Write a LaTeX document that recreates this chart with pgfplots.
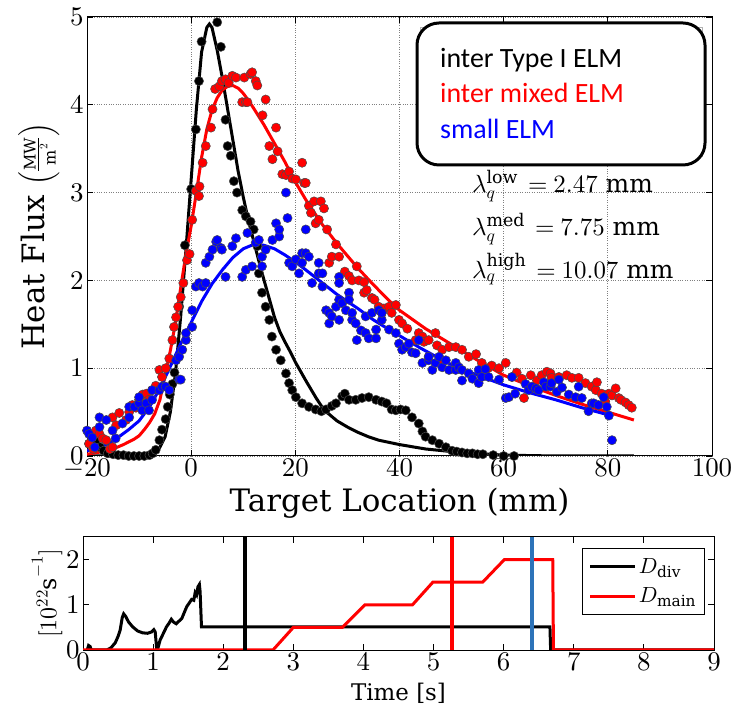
\documentclass[border=0pt]{standalone}
\usepackage{pgfplots}
\pgfplotsset{compat=1.18}
\usepackage{fontspec}
\setmainfont{DejaVu Serif}
\newfontfamily\calibri{Carlito}
\DeclareFontShape{OT1}{cmr}{m}{n}{<->cmr10}{}
\DeclareFontShape{OML}{cmm}{m}{it}{<->cmmi10}{}
\DeclareFontShape{OMS}{cmsy}{m}{n}{<->cmsy10}{}
\DeclareFontShape{OMX}{cmex}{m}{n}{<->cmex10}{}
\definecolor{mblue}{RGB}{45,115,185}
\pgfplotsset{
  dot/.style={only marks, mark=*, mark size=4.6bp, mark options={draw=black!70, line width=0.5bp, fill=#1}},
  fit/.style={no marks, line width=3bp, color=#1},
}
\begin{document}
\begin{tikzpicture}
\path[use as bounding box] (0,0) rectangle (734bp,708bp);
\begin{axis}[
  at={(87bp,252bp)}, anchor=south west, scale only axis, width=625bp, height=439bp,
  xmin=-20, xmax=100, ymin=0, ymax=5,
  xtick={-20,0,20,40,60,80,100},
  ytick={0,1,2,3,4,5},
  tick align=inside, major tick length=6bp,
  grid=major, grid style={dotted, gray, line width=0.9bp},
  axis line style={black, line width=1bp},
  every tick/.style={black, line width=0.8bp},
  tick label style={font=\fontsize{27}{31}\selectfont},
  xlabel={Target Location (mm)},
  ylabel={Heat Flux {\fontsize{23}{27}\selectfont$\left(\frac{\mathrm{MW}}{\mathrm{m}^2}\right)$}},
  label style={font=\fontsize{31}{35}\selectfont},
  xlabel style={at={(axis description cs:0.5,-0.107)}, anchor=center},
  ylabel style={at={(axis description cs:-0.077,0.5)}, anchor=center, inner sep=0pt},
]
% black data
\addplot[dot=black] coordinates {
(-20.3,1.8) (-20.3,0.45) (-19.6,0.14) (-19.0,0.2) (-18.3,0.17) (-17.5,0.1) (-16.8,0.06) (-16,0.03)
(-15,0.02) (-14,0.01) (-13,0.01) (-12,0.0) (-11,0.0) (-10,0.0) (-9,0.0) (-8,0.01) (-7.4,0.03)
(-6.8,0.07) (-6.1,0.18) (-5.6,0.3) (-4.9,0.42) (-4.5,0.56) (-4.1,0.7) (-3.6,0.82) (-3.2,0.95)
(-2.3,1.7) (-1.2,2.4) (0.0,3.04) (0.9,3.72) (1.5,4.27) (2.0,4.72) (5.0,4.94) (5.7,4.66)
(6.6,3.83) (7.0,3.53) (7.6,3.42) (8.2,3.13) (8.8,3.0) (9.8,2.8) (10.5,2.73) (11.4,2.67)
(12.0,2.58) (12.7,2.39) (13.0,2.08) (13.6,1.86) (14.3,1.7) (15.0,1.55) (15.5,1.36) (16.3,1.21)
(17.2,1.09) (18.2,0.94) (18.8,0.83) (19.4,0.75) (20.1,0.67) (21.3,0.6) (22.6,0.56) (23.9,0.53)
(25.0,0.51) (25.9,0.53) (27.0,0.57) (27.8,0.6) (29.0,0.68) (29.5,0.71) (30.3,0.64) (31.6,0.64)
(32.8,0.66) (34.1,0.67) (35.5,0.64) (36.6,0.62) (37.5,0.6) (38.5,0.53) (39.3,0.52) (40.2,0.53)
(41.2,0.52) (42.4,0.44) (43.7,0.37) (44.4,0.28) (45.0,0.22) (46.3,0.18) (47.6,0.14) (48.9,0.1)
(50.1,0.06) (51.0,0.05) (52.0,0.04) (53.0,0.03) (54.0,0.03) (55.0,0.02) (56.0,0.02) (58.0,0.01)
(60.0,0.0) (62.0,0.0)
};
\addplot[fit=black] coordinates {
(-20,0) (-10,0) (-8,0.01) (-7,0.04) (-6,0.1) (-5,0.22) (-4,0.5) (-3,0.95) (-2,1.6) (-1,2.35)
(0,3.15) (1,3.95) (2,4.6) (3,4.88) (3.5,4.92) (4,4.88) (5,4.62) (6,4.3) (7,3.95) (8,3.6)
(9,3.25) (10,2.95) (11,2.68) (12,2.45) (13,2.22) (14,2.0) (15,1.79) (16,1.58) (17,1.42)
(18,1.3) (19,1.19) (20,1.07) (22,0.86) (24,0.66) (25,0.57) (26,0.5) (28,0.4) (30,0.33)
(32,0.27) (34,0.22) (36,0.18) (40,0.13) (45,0.08) (50,0.05) (55,0.03) (60,0.01) (70,0) (85,0)
};
% red data
\addplot[dot=red] coordinates {
(-19.6,0.14) (-18.8,0.08) (-18.3,0.29) (-17.6,0.25) (-17.0,0.2) (-16.3,0.18) (-15.6,0.08)
(-15.1,0.1) (-15.1,0.44) (-14.4,0.35) (-13.8,0.49) (-12.5,0.41) (-11.9,0.5) (-11.3,0.58)
(-10.6,0.55) (-10.0,0.64) (-9.3,0.7) (-8.6,0.71) (-8.1,0.64) (-7.5,0.75) (-6.8,0.8) (-6.1,0.98)
(-5.6,0.9) (-4.9,1.0) (-4.2,1.11) (-3.6,1.32) (-3.3,1.47) (-2.9,1.58) (-2.5,1.7) (-2.0,1.81)
(-1.5,1.97) (-0.8,2.23) (-0.3,2.3) (0.2,2.69) (0.9,3.02) (1.5,2.96) (1.6,3.07) (2.2,3.34)
(2.8,3.53) (3.8,3.74) (4.1,3.95) (4.6,4.18) (5.4,4.21) (5.9,4.27) (6.6,4.29) (7.2,4.25)
(7.9,4.33) (8.6,4.31) (9.8,4.03) (10.5,4.03) (10.2,4.31) (10.8,4.03) (11.4,4.35) (11.7,4.37)
(12.4,4.27) (12.7,4.22) (13.7,3.88) (14.3,4.06) (15.0,3.53) (15.6,3.38) (16.3,3.74) (16.6,3.47)
(17.5,3.21) (18.2,3.2) (18.8,3.24) (19.4,3.16) (20.1,3.15) (21.3,3.34) (21.7,3.11) (22.0,3.11)
(22.6,2.85) (23.0,2.77) (23.6,2.9) (23.9,2.65) (24.5,2.69) (24.9,2.9) (25.5,2.82) (26.1,2.58)
(26.5,2.2) (27.0,2.27) (27.8,2.41) (28.4,2.27) (29.5,2.1) (30.3,2.05) (30.9,2.0) (31.8,2.16)
(32.2,2.0) (33.2,1.98) (33.2,1.86) (33.7,1.89) (34.7,1.8) (35.2,1.78) (36.0,1.7) (36.6,1.63)
(37.0,1.68) (38.0,1.7) (38.5,1.63) (39.3,1.72) (39.9,1.55) (40.5,1.51) (41.5,1.45) (43.1,1.32)
(43.7,1.4) (44.4,1.36) (44.7,1.3) (45.6,1.13) (45.6,1.32) (46.9,1.4) (47.2,1.26) (48.2,1.21)
(48.2,1.09) (49.5,1.24) (50.8,1.24) (52.0,1.21) (53.3,1.13) (54.7,1.16) (55.8,1.06) (57.0,1.0)
(57.7,1.03) (59.1,1.0) (60.4,1.06) (61.6,0.9) (62.5,0.95) (63.5,0.88) (63.9,0.66) (65.2,0.92)
(66.4,0.86) (67.3,0.92) (68.3,0.96) (69.0,0.94) (69.2,0.89) (70.6,0.9) (72.1,0.92) (73.1,0.89)
(74.4,0.89) (75.7,0.83) (76.9,0.79) (77.7,0.75) (77.9,0.84) (78.8,0.71) (79.5,0.62) (80.2,0.71)
(80.8,0.69) (81.5,0.77) (82.1,0.66) (82.5,0.64) (83.4,0.61) (84.0,0.58) (84.6,0.55)
};
\addplot[fit=red] coordinates {
(-20,0.02) (-17,0.05) (-15,0.08) (-13,0.13) (-11,0.19) (-10,0.23) (-9,0.3) (-8,0.38) (-7,0.48)
(-6,0.64) (-5,0.92) (-4,1.2) (-3,1.52) (-2,1.92) (-1,2.3) (0,2.62) (1,3.0) (2,3.4) (3,3.72)
(4,3.94) (5,4.08) (6,4.17) (7,4.21) (8,4.22) (9,4.19) (10,4.13) (11,4.05) (12,3.96) (14,3.77)
(16,3.56) (18,3.35) (20,3.12) (22,2.92) (25,2.65) (28,2.42) (30,2.28) (32,2.14) (35,1.95)
(38,1.77) (40,1.66) (45,1.45) (50,1.27) (55,1.09) (60,0.92) (65,0.8) (70,0.69) (75,0.59)
(80,0.5) (85,0.41)
};
% blue data
\addplot[dot=blue] coordinates {
(-20,0.29) (-19.6,0.25) (-19.0,0.21) (-18.5,0.1) (-17.6,0.44) (-17.6,0.33) (-16.3,0.41)
(-15.1,0.29) (-14.5,0.2) (-13.2,0.37) (-11.9,0.44) (-11.9,0.56) (-10.9,0.56) (-10.0,0.6)
(-10.0,0.67) (-9.4,0.52) (-8.6,0.6) (-8.1,0.52) (-7.5,0.64) (-7.5,0.75) (-6.1,0.75) (-5.6,0.79)
(-4.9,0.79) (-4.2,0.75) (-2.9,1.09) (-2.3,0.87) (-2.0,0.87) (-2.3,1.13) (-1.7,1.21) (-1.0,1.32)
(-1.0,1.4) (0.2,1.47) (0.2,1.66) (0.9,1.93) (1.5,1.97) (2.2,1.93) (2.8,1.97) (2.8,2.2) (3.5,2.27)
(4.1,2.35) (4.8,2.44) (5.0,2.46) (5.7,2.37) (5.9,2.35) (6.6,2.04) (7.9,2.39) (8.6,2.48) (9.8,2.04)
(10.5,2.12) (10.8,2.54) (11.7,2.16) (12.4,2.43) (13.0,2.46) (13.6,2.16) (13.6,2.27) (14.3,2.35)
(15.6,2.46) (16.3,2.65) (16.9,2.5) (16.9,2.58) (18.2,3.0) (18.5,2.71) (18.8,2.2) (19.4,2.16)
(20.1,2.24) (20.7,2.08) (21.3,2.2) (21.3,2.31) (22.0,2.58) (22.0,2.31) (22.6,2.27) (23.2,1.97)
(24.5,2.08) (24.5,2.2) (25.2,2.08) (25.2,1.93) (25.9,1.66) (26.5,1.51) (26.5,1.63) (27.0,1.59)
(27.8,1.7) (28.4,1.78) (28.4,2.04) (28.4,1.97) (28.4,1.55) (29.0,1.74) (29.7,1.66) (30.3,1.86)
(30.3,1.78) (30.9,1.55) (30.9,1.63) (31.6,1.51) (31.8,1.32) (32.6,1.43) (33.5,1.4) (33.5,1.59)
(34.1,1.34) (34.7,1.63) (35.5,1.34) (35.5,1.44) (36.0,1.66) (36.6,1.55) (36.6,1.63) (38.0,1.44)
(39.3,1.4) (39.9,1.28) (40.5,1.21) (41.2,1.24) (41.8,1.28) (42.4,1.18) (43.1,1.17) (43.7,1.32)
(44.4,1.06) (45.6,1.09) (45.6,1.13) (46.3,0.98) (46.9,1.06) (47.6,1.13) (48.2,1.01) (48.9,1.09)
(49.5,0.98) (50.8,0.98) (50.8,1.06) (51.4,1.01) (52.0,0.86) (52.0,0.98) (53.3,0.94) (54.0,0.88)
(55.2,0.83) (55.2,0.98) (55.8,0.9) (56.5,0.99) (57.1,0.9) (59.1,0.87) (60.4,0.66) (61.0,0.67)
(61.6,0.9) (62.2,0.71) (64.2,0.82) (64.8,0.75) (65.4,0.79) (66.2,0.77) (66.7,0.75) (67.7,0.84)
(68.1,0.79) (69.0,0.79) (69.2,0.83) (70.2,0.73) (70.6,0.87) (71.2,0.78) (72.5,0.7) (73.8,0.67)
(74.4,0.79) (75.0,0.66) (76.3,0.51) (76.9,0.6) (77.3,0.6) (78.2,0.58) (79.2,0.67) (79.8,0.56)
(80.2,0.46) (80.8,0.18)
};
\addplot[fit=blue] coordinates {
(-20,0.06) (-17,0.11) (-15,0.17) (-12,0.3) (-10,0.4) (-8,0.56) (-6,0.77) (-4,1.02) (-2,1.28)
(0,1.52) (2,1.76) (4,1.96) (6,2.12) (8,2.26) (10,2.36) (12,2.41) (14,2.4) (16,2.36) (18,2.29)
(20,2.21) (22,2.12) (25,1.98) (28,1.84) (30,1.76) (32,1.68) (35,1.55) (38,1.44) (40,1.37)
(44,1.23) (48,1.1) (50,1.04) (55,0.92) (60,0.81) (65,0.72) (70,0.64) (75,0.55) (80,0.47)
};
\node[anchor=base west, inner sep=0pt, font=\fontsize{25}{29}\selectfont] at (axis cs:53.9,3.0) {$\lambda_q^{\mathrm{low}}\hspace{10bp}{=}\hspace{6bp}2.47\ \mathrm{mm}$};
\node[anchor=base west, inner sep=0pt, font=\fontsize{25}{29}\selectfont] at (axis cs:53.9,2.51) {$\lambda_q^{\mathrm{med}}\hspace{10bp}{=}\hspace{6bp}7.75\ \mathrm{mm}$};
\node[anchor=base west, inner sep=0pt, font=\fontsize{25}{29}\selectfont] at (axis cs:53.9,2.02) {$\lambda_q^{\mathrm{high}}\hspace{10bp}{=}\hspace{6bp}10.07\ \mathrm{mm}$};
\end{axis}

\begin{axis}[
  at={(83bp,58bp)}, anchor=south west, scale only axis, width=631bp, height=113bp,
  xmin=0, xmax=9, ymin=0, ymax=2.5,
  xtick={0,1,2,3,4,5,6,7,8,9}, ytick={0,1,2},
  tick align=inside, major tick length=6bp,
  axis line style={black, line width=1bp},
  every tick/.style={black, line width=0.8bp},
  tick label style={font=\fontsize{27}{31}\selectfont},
  xlabel={Time [s]},
  ylabel={$[10^{22}\mathrm{s}^{-1}]$},
  label style={font=\fontsize{23}{27}\selectfont},
  xlabel style={at={(axis description cs:0.5,-0.38)}, anchor=center},
  ylabel style={at={(axis description cs:-0.057,0.5)}, anchor=center, font=\fontsize{24}{28}\selectfont},
  legend style={at={(0.985,0.903)}, anchor=north east, draw=black, line width=1bp,
    font=\fontsize{22}{26}\selectfont, inner xsep=6bp, inner ysep=8bp, row sep=9bp},
  legend cell align=left,
  legend image code/.code={\draw[#1, line width=3bp] (0bp,0bp) -- (45bp,0bp);},
]
\addplot[black, line width=3bp] coordinates {
(0.06,0.0) (0.08,0.1) (0.1,0.08) (0.12,0.0) (0.34,0.0) (0.4,0.05) (0.46,0.16) (0.5,0.3) (0.53,0.44)
(0.56,0.72) (0.58,0.8) (0.61,0.74) (0.65,0.62) (0.71,0.51) (0.78,0.42) (0.85,0.38) (0.92,0.37)
(0.98,0.4) (1.01,0.45) (1.03,0.4) (1.05,0.04) (1.07,0.05) (1.1,0.22) (1.15,0.38) (1.19,0.51)
(1.23,0.6) (1.26,0.68) (1.29,0.62) (1.33,0.58) (1.37,0.64) (1.41,0.7) (1.45,0.85) (1.48,0.96)
(1.52,1.05) (1.55,1.12) (1.58,1.1) (1.6,1.27) (1.62,1.22) (1.64,1.4) (1.66,1.45) (1.67,1.3)
(1.69,0.51) (6.66,0.51) (6.67,0.0) (9,0.0)
};
\addlegendentry{$D_{\mathrm{div}}$}
\addplot[red, line width=3bp] coordinates {
(0,0) (2.71,0) (3.0,0.5) (3.7,0.5) (4.02,1.0) (4.7,1.0) (4.99,1.5) (5.7,1.5) (6.01,2.0)
(6.7,2.0) (6.71,0) (9,0)
};
\addlegendentry{$D_{\mathrm{main}}$}
\addplot[black, line width=4bp, forget plot] coordinates {(2.31,0) (2.31,2.5)};
\addplot[red, line width=4bp, forget plot] coordinates {(5.27,0) (5.27,2.5)};
\addplot[mblue, line width=4bp, forget plot] coordinates {(6.41,0) (6.41,2.5)};
\end{axis}

\draw[gray!60, line width=0.8bp] (420bp,681bp) rectangle (702bp,552bp);
\draw[black, line width=3bp, rounded corners=22bp, fill=white] (417bp,685bp) rectangle (705bp,543bp);
\node[anchor=base west, font=\calibri\fontsize{28}{32}\selectfont, text=black, inner sep=0pt] at (440bp,640bp) {inter Type I ELM};
\node[anchor=base west, font=\calibri\fontsize{28}{32}\selectfont, text=red, inner sep=0pt] at (440bp,605bp) {inter mixed ELM};
\node[anchor=base west, font=\calibri\fontsize{28}{32}\selectfont, text=blue, inner sep=0pt] at (440bp,569bp) {small ELM};
\end{tikzpicture}
\end{document}
